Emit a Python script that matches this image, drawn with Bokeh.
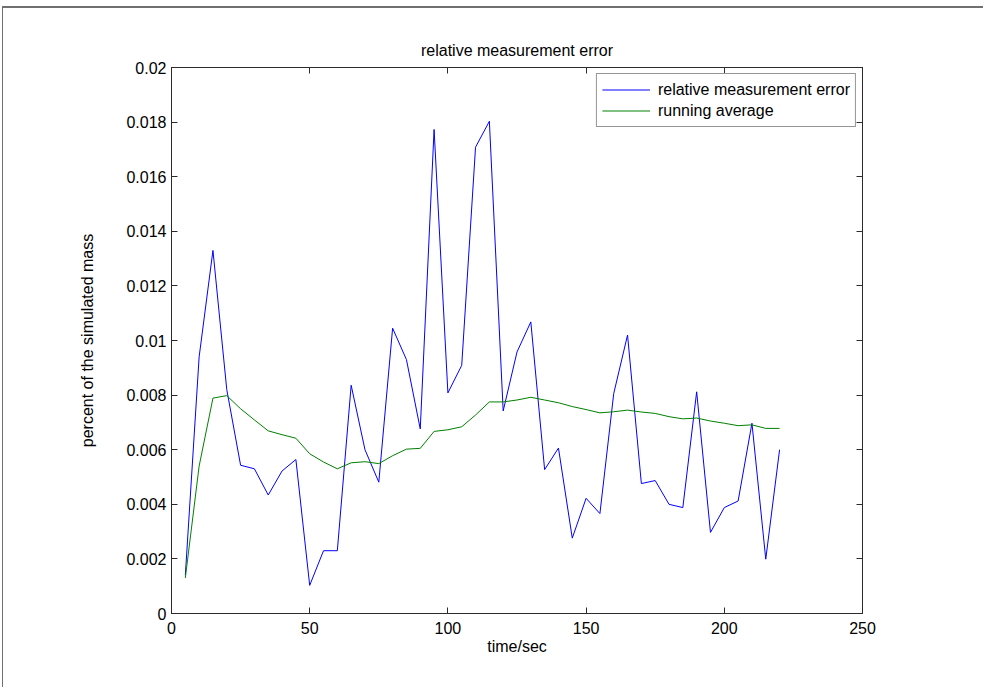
from bokeh.plotting import figure
from bokeh.models import LinearAxis, FixedTicker, Range1d
from bokeh.embed import file_html
from bokeh.resources import INLINE

time_sec = [5, 10, 15, 20, 25, 30, 35, 40, 45, 50, 55, 60, 65, 70, 75, 80, 85, 90, 95, 100,
            105, 110, 115, 120, 125, 130, 135, 140, 145, 150, 155, 160, 165, 170, 175, 180,
            185, 190, 195, 200, 205, 210, 215, 220]
rel_error = [0.0014, 0.0094, 0.0133, 0.0082, 0.00543, 0.0053, 0.00434, 0.00522, 0.00564, 0.00103,
             0.0023, 0.0023, 0.00836, 0.0060, 0.00481, 0.01045, 0.0093, 0.00676, 0.01773, 0.00808,
             0.00909, 0.01708, 0.01803, 0.00742, 0.00958, 0.01068, 0.00527, 0.00606, 0.00276, 0.00422,
             0.00366, 0.00806, 0.0102, 0.00476, 0.00487, 0.0040, 0.00388, 0.00812, 0.00297, 0.00388,
             0.00412, 0.00697, 0.00199, 0.0060]
running_avg = [0.0013, 0.0054, 0.00789, 0.00798, 0.0075, 0.00709, 0.00669, 0.00655, 0.00642, 0.00585,
               0.00555, 0.0053, 0.00552, 0.00556, 0.00549, 0.00578, 0.00602, 0.00605, 0.00667, 0.00673,
               0.00684, 0.00727, 0.00775, 0.00775, 0.00782, 0.00792, 0.00782, 0.00772, 0.00758, 0.00747,
               0.00735, 0.00739, 0.00745, 0.00738, 0.00733, 0.00721, 0.00713, 0.00716, 0.00705, 0.00697,
               0.00688, 0.00691, 0.00678, 0.00678]
series_names = ["relative measurement error", "running average"]

x_ticks = [0, 50, 100, 150, 200, 250]
y_ticks = [0, 0.002, 0.004, 0.006, 0.008, 0.01, 0.012, 0.014, 0.016, 0.018, 0.02]
y_tick_labels = ["0", "0.002", "0.004", "0.006", "0.008", "0.01", "0.012", "0.014", "0.016", "0.018", "0.02"]

FONT = "Liberation Sans"
FS = "16px"
AX = "#2b2b2b"

p = figure(width=981, height=681, output_backend="svg", toolbar_location=None,
           x_range=Range1d(0, 250), y_range=Range1d(0, 0.02),
           min_border_left=168, min_border_right=122, min_border_top=59, min_border_bottom=76,
           x_axis_label="time/sec", y_axis_label="percent of the simulated mass",
           title="relative measurement error")
p.styles = {"margin-left": "2px", "margin-top": "6px",
            "border-top": "2px solid #707070", "border-left": "1px solid #707070"}
p.grid.visible = False
p.outline_line_color = AX
p.outline_line_width = 1
p.background_fill_color = "white"
p.border_fill_color = "white"

p.title.align = "center"
p.title.vertical_align = "top"
p.title.text_font = FONT
p.title.text_font_size = FS
p.title.text_font_style = "normal"
p.title.text_color = "black"
p.title.standoff = 13

def style_axis(ax, ticks):
    ax.ticker = FixedTicker(ticks=ticks)
    ax.major_tick_in = 6
    ax.major_tick_out = 0
    ax.minor_tick_in = 0
    ax.minor_tick_out = 0
    ax.axis_line_color = AX
    ax.major_tick_line_color = AX
    ax.major_label_text_font = FONT
    ax.major_label_text_font_size = FS
    ax.major_label_text_color = "black"
    ax.axis_label_text_font = FONT
    ax.axis_label_text_font_size = FS
    ax.axis_label_text_font_style = "normal"
    ax.axis_label_text_color = "black"

xa = p.xaxis[0]
ya = p.yaxis[0]
style_axis(xa, x_ticks)
style_axis(ya, y_ticks)
xa.major_label_standoff = 8
xa.axis_label_standoff = 1
ya.major_label_standoff = 5
ya.axis_label_standoff = 27
ya.major_label_overrides = {t: l for t, l in zip(y_ticks, y_tick_labels)}

# mirrored tick marks on top and right (labels not drawn)
top_ax = LinearAxis()
style_axis(top_ax, x_ticks)
top_ax.major_label_text_font_size = "8px"
top_ax.major_label_text_color = None
top_ax.major_label_standoff = 0
p.add_layout(top_ax, "above")
right_ax = LinearAxis()
style_axis(right_ax, y_ticks)
right_ax.major_label_text_color = None
right_ax.major_label_standoff = 0
p.add_layout(right_ax, "right")

p.line(time_sec, rel_error, line_color="#0000ff", line_width=1, legend_label=series_names[0])
p.line(time_sec, running_avg, line_color="#008000", line_width=1, legend_label=series_names[1])

legend = p.legend[0]
legend.location = "top_right"
legend.margin = 6
legend.padding = 5
legend.spacing = 0
legend.glyph_width = 48
legend.glyph_height = 21
legend.label_height = 20
legend.label_standoff = 8
legend.label_text_font = FONT
legend.label_text_font_size = FS
legend.label_text_color = "black"
legend.border_line_color = AX
legend.border_line_width = 1
legend.background_fill_color = "white"
legend.background_fill_alpha = 1

open("out.html", "w").write(file_html(p, INLINE))
